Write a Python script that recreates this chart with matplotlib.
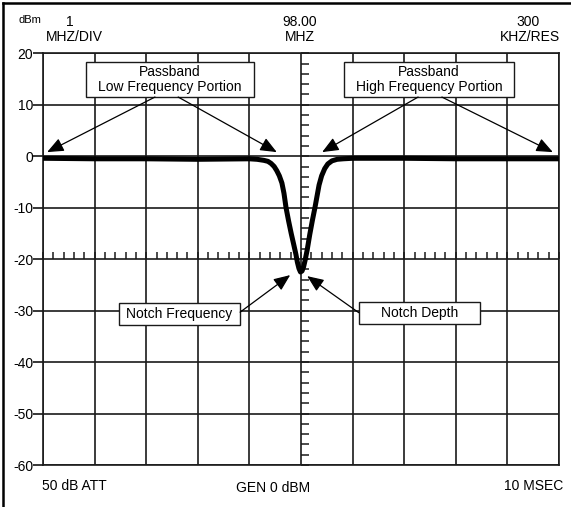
import numpy as np
import matplotlib.pyplot as plt
from matplotlib.lines import Line2D
from matplotlib.patches import Rectangle

plt.rcParams['font.family'] = ['Liberation Sans', 'DejaVu Sans']

# notch filter sweep, offset from 98.00 MHz centre (MHz) vs level (dBm)
freq_offset = [-5.0, -4.0, -3.0, -2.0, -1.0, -0.85, -0.72, -0.64, -0.58, -0.52,
               -0.47, -0.42, -0.37, -0.33, -0.29, -0.24, -0.19, -0.14, -0.1,
               -0.07, -0.04, -0.01, 0.02, 0.05, 0.08, 0.12, 0.17, 0.22, 0.27,
               0.31, 0.35, 0.4, 0.46, 0.52, 0.6, 0.7, 0.82, 1.0, 2.0, 3.0,
               4.0, 5.0]
level_dbm = [-0.4, -0.5, -0.5, -0.6, -0.5, -0.6, -0.8, -1.0, -1.4, -2.0,
             -2.8, -3.8, -5.2, -7.2, -10.0, -12.6, -15.0, -17.2, -19.0,
             -20.6, -21.8, -22.5, -22.3, -21.5, -20.2, -18.2, -15.2, -12.5,
             -10.0, -7.8, -5.6, -3.8, -2.4, -1.5, -0.9, -0.6, -0.5, -0.4,
             -0.4, -0.5, -0.5, -0.5]

y_ticks = [20, 10, 0, -10, -20, -30, -40, -50, -60]
x_grid = np.arange(-5, 6, 1)

fig = plt.figure(figsize=(5.71, 5.07), dpi=100)
ax = fig.add_axes([43 / 571, 42 / 507, 516 / 571, 411.7 / 507])

ax.set_xlim(-5, 5)
ax.set_ylim(-60, 20)
ax.set_xticks(x_grid)
ax.set_xticklabels([])
ax.tick_params(axis='x', length=0)
ax.set_yticks(y_ticks)
ax.set_yticklabels([str(v) for v in y_ticks], fontsize=10)
ax.tick_params(axis='y', length=7, width=1.1, pad=0)
ax.grid(True, color='#1a1a1a', linewidth=1.2)
for s in ax.spines.values():
    s.set_linewidth(1.2)
    s.set_color('#1a1a1a')

# graticule minor ticks along the centre line and the -20 dBm line
ax.plot(np.zeros(41), np.arange(-60, 21, 2), ls='none', marker=1, ms=6,
        mew=1.1, color='#1a1a1a', clip_on=False)
ax.plot(np.arange(-5, 5.01, 0.2), np.full(51, -20), ls='none', marker=2,
        ms=5, mew=1.1, color='#1a1a1a', clip_on=False)

ax.plot(freq_offset, level_dbm, color='black', linewidth=3.6,
        solid_joinstyle='round', solid_capstyle='round', zorder=5)

# callout boxes: (x0, y0, x1, y1) in data units, then the label
callouts = [((-4.17, 11.5, -0.91, 18.3), 'Passband\nLow Frequency Portion'),
            ((0.83, 11.5, 4.13, 18.3), 'Passband\nHigh Frequency Portion'),
            ((-3.53, -32.8, -1.18, -28.5), 'Notch Frequency'),
            ((1.12, -32.6, 3.47, -28.4), 'Notch Depth')]
for (x0, y0, x1, y1), label in callouts:
    ax.add_patch(Rectangle((x0, y0), x1 - x0, y1 - y0, facecolor='white',
                           edgecolor='#1a1a1a', linewidth=1.0, zorder=6))
    ax.text((x0 + x1) / 2, (y0 + y1) / 2, label, ha='center', va='center',
            fontsize=10, zorder=7, linespacing=1.05)

arrow = dict(arrowstyle='-|>,head_length=1.0,head_width=0.42', color='black',
             linewidth=0.9, shrinkA=0, shrinkB=0)
for start, end in [((-2.83, 11.5), (-4.92, 0.8)), ((-2.38, 11.5), (-0.47, 0.8)),
                   ((2.27, 11.5), (0.41, 0.8)), ((2.73, 11.5), (4.88, 0.8)),
                   ((-1.18, -30.3), (-0.21, -23.1)), ((1.12, -30.4), (0.12, -23.3))]:
    ax.annotate('', xy=end, xytext=start, arrowprops=arrow, zorder=8)

# analyzer readout text
fig.text(30 / 571, 1 - 20 / 507, 'dBm', fontsize=8, ha='center', va='center')
fig.text(70 / 571, 1 - 22 / 507, '1', fontsize=10, ha='center', va='center')
fig.text(74 / 571, 1 - 37 / 507, 'MHZ/DIV', fontsize=10, ha='center', va='center')
fig.text(300 / 571, 1 - 22 / 507, '98.00', fontsize=10, ha='center', va='center')
fig.text(300 / 571, 1 - 37 / 507, 'MHZ', fontsize=10, ha='center', va='center')
fig.text(528 / 571, 1 - 22 / 507, '300', fontsize=10, ha='center', va='center')
fig.text(530 / 571, 1 - 37 / 507, 'KHZ/RES', fontsize=10, ha='center', va='center')
fig.text(42 / 571, 1 - 486 / 507, '50 dB ATT', fontsize=10, ha='left', va='center')
fig.text(273 / 571, 1 - 488 / 507, 'GEN 0 dBM', fontsize=10, ha='center', va='center')
fig.text(563 / 571, 1 - 486 / 507, '10 MSEC', fontsize=10, ha='right', va='center')

# outer frame, left and top edges
fig.add_artist(Line2D([3 / 571, 3 / 571], [0, 1 - 3 / 507], color='black',
                      linewidth=1.8, transform=fig.transFigure))
fig.add_artist(Line2D([3 / 571, 1], [1 - 3 / 507, 1 - 3 / 507], color='black',
                      linewidth=1.8, transform=fig.transFigure))

fig.savefig('out.png', dpi=100)
